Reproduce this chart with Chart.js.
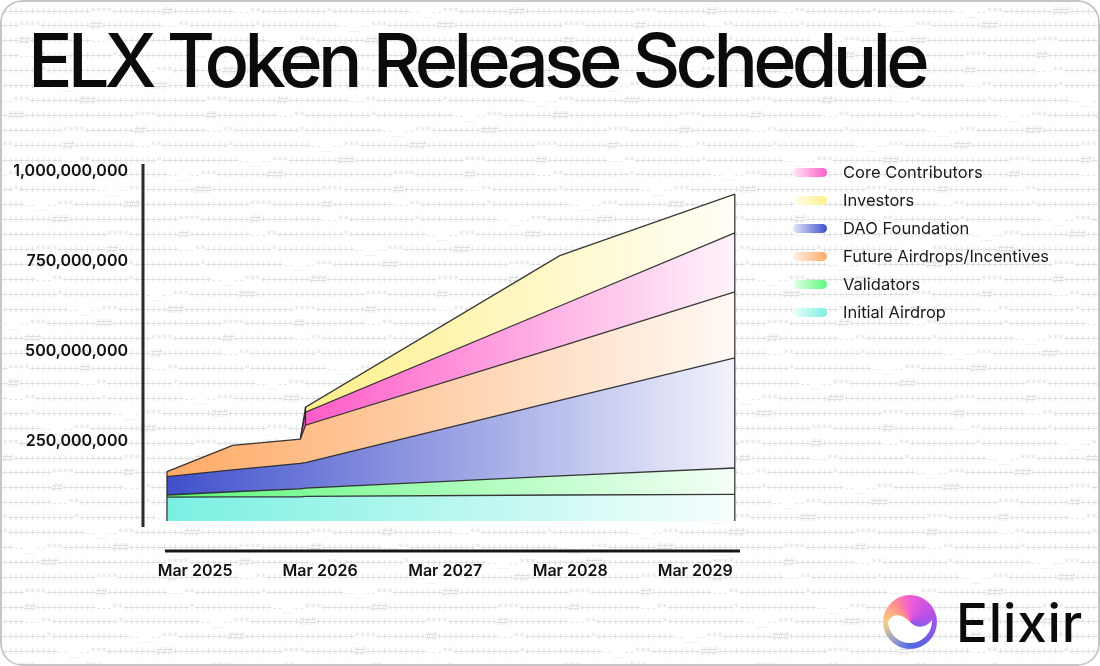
<!DOCTYPE html>
<html>
<head>
<meta charset="utf-8">
<script src="https://cdn.jsdelivr.net/npm/chart.js@4.4.1/dist/chart.umd.min.js"></script>
<style>
html,body{margin:0;padding:0;background:#fff;}
#card{position:relative;width:1100px;height:666px;border-radius:22px;overflow:hidden;background:#fff;font-family:Inter,"Noto Sans",sans-serif;}
#frame{position:absolute;left:0;top:0;width:1100px;height:666px;box-sizing:border-box;border:2px solid #c6c6c6;border-radius:22px;pointer-events:none;}
#bg{position:absolute;left:0;top:0;}
#wrap{position:absolute;left:0;top:0;width:1100px;height:666px;}
#title{position:absolute;left:28px;top:23px;font-size:74px;line-height:74px;font-weight:500;color:#0b0b0b;white-space:nowrap;}
#legend{position:absolute;left:793px;top:158px;}
.row{display:flex;align-items:center;height:28px;}
.sw{width:34px;height:9px;border-radius:5px;margin-right:16px;}
.lt{font-size:16.5px;color:#1a1a1a;font-weight:400;white-space:nowrap;}
#logo{position:absolute;left:883px;top:595px;width:54px;height:54px;border-radius:50%;
  background:conic-gradient(from 0deg,#f25bd6 0deg,#b650e6 70deg,#6a5fe6 140deg,#5268e4 180deg,#9ea2c6 225deg,#f4d27c 270deg,#ff8e8e 320deg,#f25bd6 360deg);}
#logo svg{position:absolute;left:0;top:0;}
#brand{position:absolute;left:956px;top:597px;font-size:53px;line-height:53px;font-weight:500;color:#0b0b0b;white-space:nowrap;}
</style>
</head>
<body>
<div id="card">
  <canvas id="bg" width="1100" height="666"></canvas>
  <div id="title">ELX Token Release Schedule</div>
  <div id="wrap"><canvas id="chart"></canvas></div>
  <div id="legend"></div>
  <div id="logo"><svg width="54" height="54" viewBox="0 0 54 54"><path d="M5,27 C10,17 19,19 27,27 C34,34 43,33 49,25 A22 22 0 1 1 5,27 Z" fill="#fff"/></svg></div>
  <div id="brand">Elixir</div>
  <div id="frame"></div>
</div>
<script>
// ---- data (token amounts in millions of ELX; each array = band thickness at each date) ----
const months = [-2.7, 3.6, 10.1, 10.6, 35, 51.8];      // months after Mar 2025
const tickMonths = [0, 12, 24, 36, 48];
const tickLabels = ['Mar 2025', 'Mar 2026', 'Mar 2027', 'Mar 2028', 'Mar 2029'];
const baselineGap      = [28, 28, 28, 28, 28, 28];
const initialAirdrop   = [66, 67, 67, 68, 72, 74];
const validators       = [6, 14, 22, 23, 53, 73];
const daoFoundation    = [51, 61, 71, 71, 210, 306];
const futureAirdrops   = [14, 68, 67, 104, 149, 183];
const coreContributors = [0, 0, 0, 36, 113, 164];
const investors        = [0, 0, 0, 14, 140, 108];
const yTicks = [250, 500, 750, 1000];

const seriesNames  = ['Initial Airdrop', 'Validators', 'DAO Foundation', 'Future Airdrops/Incentives', 'Core Contributors', 'Investors'];
const seriesData   = [initialAirdrop, validators, daoFoundation, futureAirdrops, coreContributors, investors];
const seriesColors = [[122,240,226],[92,250,122],[64,80,204],[255,170,102],[255,92,200],[255,240,140]];
const legendOrder  = ['Core Contributors','Investors','DAO Foundation','Future Airdrops/Incentives','Validators','Initial Airdrop'];

// ---- decorative ascii background ----
(function(){
  const c = document.getElementById('bg').getContext('2d');
  c.font = '10px "DejaVu Sans Mono", monospace';
  c.fillStyle = 'rgba(0,0,0,0.13)';
  c.textBaseline = 'middle';
  const tpl = '++++++++++++++++****+++++++++##+++++++++++---**++++++++++++*++++++++++++++--__--***+++++++++###++++';
  for (let r = 0; r < 45; r++) {
    const y = 12 + r * 14.9;
    const off = (r * 13) % tpl.length;
    for (let k = 0; k < 200; k++) {
      c.fillText(tpl[(off + k) % tpl.length], 2 + k * 5.5, y);
    }
  }
})();

function mix(col, t){ // t=0 full colour, t=1 white
  return 'rgb(' + col.map(v => Math.round(v + (255 - v) * t)).join(',') + ')';
}

// legend
const legendEl = document.getElementById('legend');
legendOrder.forEach(name => {
  const col = seriesColors[seriesNames.indexOf(name)];
  const row = document.createElement('div'); row.className = 'row';
  const sw = document.createElement('div'); sw.className = 'sw';
  sw.style.background = 'linear-gradient(90deg,' + mix(col, 0.85) + ',' + mix(col, 0) + ')';
  const lt = document.createElement('div'); lt.className = 'lt'; lt.textContent = name;
  row.appendChild(sw); row.appendChild(lt); legendEl.appendChild(row);
});

// fit title / brand widths
function fitWidth(id, target){
  const el = document.getElementById(id);
  const w = el.getBoundingClientRect().width;
  el.style.letterSpacing = ((target - w) / el.textContent.length) + 'px';
}
fitWidth('title', 897);
fitWidth('brand', 127);

Chart.defaults.font.family = 'Inter, "Noto Sans", sans-serif';

const BORDER = 'rgba(40,40,40,0.92)';

const datasets = [{
  label: 'gap', data: months.map((m, i) => ({x: m, y: baselineGap[i]})),
  fill: false, borderWidth: 0, pointRadius: 0, backgroundColor: 'transparent', borderColor: 'transparent'
}];
seriesNames.forEach((name, si) => {
  const vals = seriesData[si];
  const col = seriesColors[si];
  const firstIdx = vals.findIndex(v => v > 0);
  datasets.push({
    label: name,
    data: months.map((m, i) => ({x: m, y: vals[i]})),
    fill: '-1',
    borderColor: BORDER,
    borderWidth: 1.3,
    pointRadius: 0,
    tension: 0,
    segment: {
      borderColor: ctx => (ctx.p0.parsed.y === 0 && ctx.p1.parsed.y === 0) ? 'transparent' : BORDER
    },
    backgroundColor: ctx => {
      const chart = ctx.chart; const area = chart.chartArea;
      if (!area) return mix(col, 0.3);
      const xs = chart.scales.x;
      const x0 = xs.getPixelForValue(months[Math.max(firstIdx, 0)]);
      const x1 = xs.getPixelForValue(months[months.length - 1]);
      const g = chart.ctx.createLinearGradient(x0, 0, x1, 0);
      g.addColorStop(0, mix(col, 0));
      g.addColorStop(1, mix(col, 0.93));
      return g;
    }
  });
});

const decor = {
  id: 'decor',
  afterDatasetsDraw(chart) {
    const c = chart.ctx; const a = chart.chartArea;
    c.save();
    c.strokeStyle = BORDER; c.lineWidth = 1.3;
    for (let d = 1; d < chart.data.datasets.length; d++) {
      const cur = chart.getDatasetMeta(d).data;
      const prev = chart.getDatasetMeta(d - 1).data;
      const vals = seriesData[d - 1];
      const fi = vals.findIndex(v => v > 0);
      const li = vals.length - 1;
      [fi, li].forEach(i => {
        if (i < 0) return;
        c.beginPath(); c.moveTo(cur[i].x, cur[i].y); c.lineTo(cur[i].x, prev[i].y); c.stroke();
      });
    }
    c.lineCap = 'butt';
    c.strokeStyle = '#2a2a2a'; c.lineWidth = 3;
    c.beginPath(); c.moveTo(a.left, a.top - 7); c.lineTo(a.left, a.bottom - 4); c.stroke();
    c.strokeStyle = '#161616';
    c.beginPath(); c.moveTo(a.left + 22, a.bottom + 20); c.lineTo(a.right, a.bottom + 20); c.stroke();
    c.restore();
  }
};

new Chart(document.getElementById('chart'), {
  type: 'line',
  data: { datasets },
  options: {
    responsive: true, maintainAspectRatio: false, animation: false,
    layout: { padding: { top: 171, right: 360, bottom: 0, left: 0 } },
    plugins: { legend: { display: false }, tooltip: { enabled: false } },
    scales: {
      x: {
        type: 'linear', min: -5, max: 52.3,
        grid: { display: false, drawTicks: false }, border: { display: false },
        afterBuildTicks: s => { s.ticks = tickMonths.map(v => ({ value: v })); },
        afterFit: s => { s.height = 135; },
        ticks: { padding: 31, color: '#111', font: { size: 16, weight: 600 }, maxRotation: 0,
          callback: v => tickLabels[tickMonths.indexOf(v)] }
      },
      y: {
        stacked: true, min: 0, max: 1000,
        grid: { display: false, drawTicks: false }, border: { display: false },
        afterBuildTicks: s => { s.ticks = yTicks.map(v => ({ value: v })); },
        afterFit: s => { s.width = 143; },
        ticks: { padding: 15, color: '#111', font: { size: 16, weight: 600 },
          callback: v => (v * 1e6).toLocaleString('en-US') }
      }
    }
  },
  plugins: [decor]
});
</script>
</body>
</html>
